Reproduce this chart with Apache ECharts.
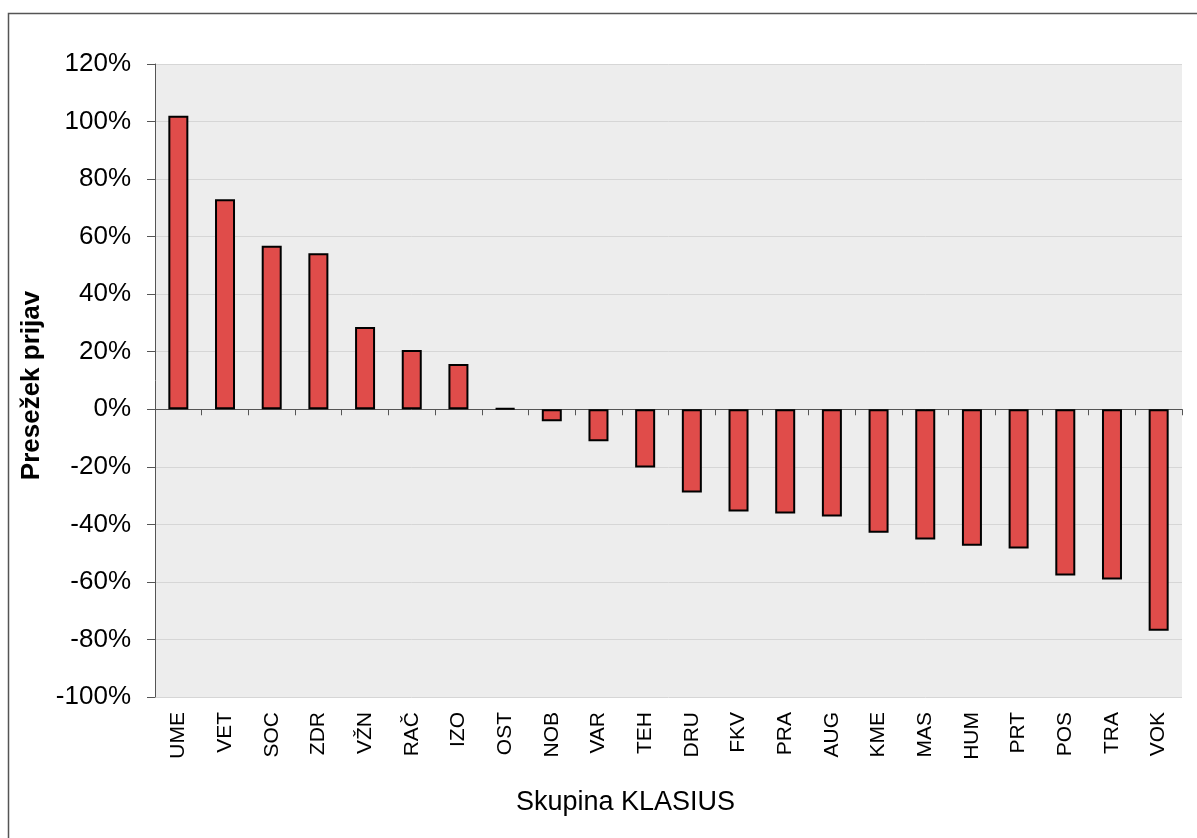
<!DOCTYPE html>
<html>

<head>
    <meta charset="utf-8">
    <script src="https://cdn.jsdelivr.net/npm/echarts@6/dist/echarts.min.js"></script>
    <style>
        body { margin: 0; background: #fff; }
    </style>
</head>

<body>
    <div id="main" style="width: 1197px;height:838px;"></div>
    <script type="text/javascript">
        // skupine KLASIUS in presežek prijav (v %)
        var categories = ['UME', 'VET', 'SOC', 'ZDR', 'VŽN', 'RAČ', 'IZO', 'OST', 'NOB', 'VAR', 'TEH',
            'DRU', 'FKV', 'PRA', 'AUG', 'KME', 'MAS', 'HUM', 'PRT', 'POS', 'TRA', 'VOK'];
        var values = [102, 73, 56.8, 54.2, 28.6, 20.6, 15.7, 0.3, -4.2, -11.1, -20.2,
            -28.9, -35.5, -36.2, -37.3, -42.9, -45.3, -47.4, -48.4, -57.8, -59.2, -77];
        var yTicks = { min: -100, max: 120, step: 20 };

        var font = 'Liberation Sans, Arial, sans-serif';
        var myChart = echarts.init(document.getElementById('main'));

        option = {
            backgroundColor: '#fff',
            animation: false,
            graphic: [{
                type: 'rect',
                shape: { x: 8.5, y: 13.5, width: 1300, height: 900 },
                style: { fill: 'none', stroke: '#555', lineWidth: 1.5 },
                z: -10
            }],
            grid: {
                left: 155, top: 64, right: 15, bottom: 141,
                show: true,
                backgroundColor: '#EDEDED',
                borderWidth: 0
            },
            xAxis: [{
                // osnovna os s kategorijami na dnu
                type: 'category',
                data: categories,
                position: 'bottom',
                axisLine: { show: false, onZero: false },
                axisTick: { show: false },
                axisLabel: {
                    rotate: 90,
                    margin: 15,
                    fontFamily: font,
                    fontSize: 21,
                    color: '#000'
                },
                name: 'Skupina KLASIUS',
                nameLocation: 'middle',
                nameGap: 92,
                nameTextStyle: {
                    fontFamily: font, fontSize: 27, color: '#000',
                    padding: [0, 86, 0, 0]
                }
            }, {
                // ničelna črta s kljukicami
                type: 'category',
                data: categories,
                position: 'bottom',
                axisLine: { show: true, onZero: true, lineStyle: { color: '#555', width: 1 } },
                axisTick: { show: true, length: 6, inside: false, lineStyle: { color: '#555' } },
                axisLabel: { show: false }
            }],
            yAxis: {
                type: 'value',
                min: yTicks.min,
                max: yTicks.max,
                interval: yTicks.step,
                axisLine: { show: true, lineStyle: { color: '#555', width: 1 } },
                axisTick: { show: true, length: 8, lineStyle: { color: '#555' } },
                splitLine: { show: true, lineStyle: { color: '#D6D6D6', width: 1 } },
                axisLabel: {
                    margin: 24,
                    fontFamily: font,
                    fontSize: 26,
                    color: '#000',
                    formatter: '{value}%'
                },
                name: 'Presežek prijav',
                nameLocation: 'middle',
                nameGap: 97,
                nameTextStyle: {
                    fontFamily: font, fontSize: 26, fontWeight: 'bold', color: '#000',
                    padding: [0, 10, 0, 0]
                }
            },
            series: [{
                type: 'bar',
                data: values,
                barWidth: 20,
                itemStyle: {
                    color: '#E04C4A',
                    borderColor: '#000',
                    borderWidth: 2
                }
            }]
        };
        myChart.setOption(option);
    </script>
</body>

</html>
